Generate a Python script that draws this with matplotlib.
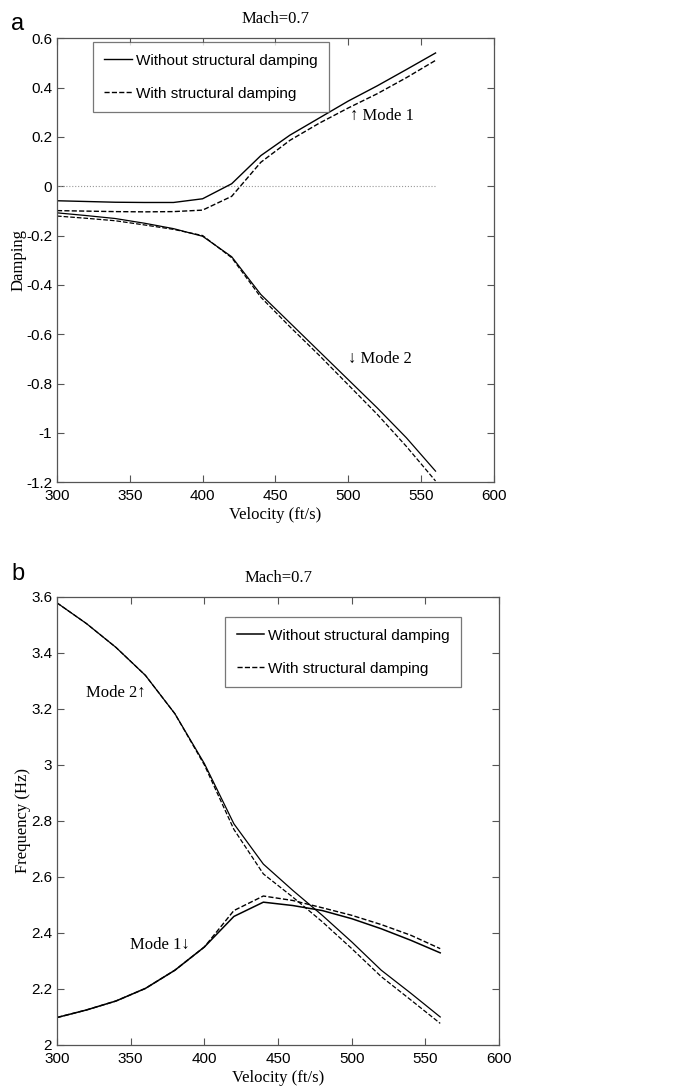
import matplotlib
matplotlib.use("Agg")
from matplotlib import pyplot as plt
import numpy as np

velocity = [300, 320, 340, 360, 380, 400, 420, 440, 460, 480, 500, 520, 540, 560]

# damping, panel a
damp_m1 = [-0.059, -0.062, -0.065, -0.066, -0.066, -0.051, 0.010, 0.124, 0.207, 0.276, 0.345, 0.407, 0.473, 0.540]
damp_m1_sd = [-0.099, -0.101, -0.103, -0.104, -0.103, -0.097, -0.041, 0.097, 0.186, 0.255, 0.317, 0.375, 0.440, 0.510]
damp_m2 = [-0.108, -0.119, -0.131, -0.150, -0.172, -0.203, -0.286, -0.439, -0.554, -0.669, -0.784, -0.899, -1.020, -1.155]
damp_m2_sd = [-0.121, -0.130, -0.140, -0.157, -0.175, -0.200, -0.290, -0.450, -0.570, -0.685, -0.805, -0.925, -1.055, -1.195]

# frequency, panel b
freq_m1 = [2.098, 2.125, 2.157, 2.202, 2.267, 2.350, 2.459, 2.510, 2.498, 2.480, 2.451, 2.415, 2.374, 2.329]
freq_m1_sd = [2.098, 2.125, 2.157, 2.202, 2.267, 2.350, 2.480, 2.532, 2.516, 2.490, 2.463, 2.430, 2.392, 2.344]
freq_m2 = [3.579, 3.505, 3.420, 3.320, 3.183, 3.005, 2.790, 2.646, 2.552, 2.463, 2.368, 2.267, 2.185, 2.100]
freq_m2_sd = [3.579, 3.505, 3.420, 3.320, 3.183, 3.000, 2.770, 2.611, 2.528, 2.440, 2.344, 2.244, 2.161, 2.077]

legend_labels = ['Without structural damping', 'With structural damping']

serif = ['Liberation Serif', 'DejaVu Serif']
sans = 'Liberation Sans'
frame_col = '#555555'
serif_size = 12


def style_axes(ax):
    ax.tick_params(direction='in', top=True, right=True, length=5, width=0.8,
                   colors=frame_col, labelcolor='black', labelsize=11)
    ax.tick_params(axis='x', pad=5)
    for lbl in ax.get_xticklabels() + ax.get_yticklabels():
        lbl.set_family(sans)
    for sp in ax.spines.values():
        sp.set_color(frame_col)
        sp.set_linewidth(0.9)
    ax.set_xlim(300, 600)
    ax.set_xticks(np.arange(300, 601, 50))


def add_legend(ax, handles, loc, anchor):
    leg = ax.legend(handles, legend_labels, loc=loc, bbox_to_anchor=anchor,
                    prop={'family': sans, 'size': 11},
                    fancybox=False, edgecolor=frame_col, handlelength=1.8, handletextpad=0.25,
                    borderpad=0.75, labelspacing=1.25, borderaxespad=0.0)
    leg.get_frame().set_linewidth(0.9)
    return leg


fig = plt.figure(figsize=(6.73, 10.91), dpi=100)

# ---- a: damping
ax1 = fig.add_axes([0.0847, 0.558, 0.649, 0.407])
ax1.plot(velocity, np.zeros(len(velocity)), ':', color='#999999', lw=0.8)
l1, = ax1.plot(velocity, damp_m1, '-', color='black', lw=1.0)
l2, = ax1.plot(velocity, damp_m1_sd, '--', color='black', lw=1.0)
ax1.plot(velocity, damp_m2, '-', color='black', lw=0.9)
ax1.plot(velocity, damp_m2_sd, '--', color='black', lw=0.9)
ax1.set_ylim(-1.2, 0.6)
ax1.set_yticks(np.arange(-1.2, 0.61, 0.2))
ax1.set_yticklabels(['-1.2', '-1', '-0.8', '-0.6', '-0.4', '-0.2', '0', '0.2', '0.4', '0.6'])
style_axes(ax1)
ax1.set_title('Mach=0.7', family=serif, fontsize=serif_size, pad=11)
ax1.set_xlabel('Velocity (ft/s)', family=serif, fontsize=serif_size, labelpad=3)
ax1.set_ylabel('Damping', family=serif, fontsize=serif_size, labelpad=0)
ax1.text(501, 0.284, '\u2191 Mode 1', family=serif, fontsize=serif_size, va='center')
ax1.text(500, -0.70, '\u2193 Mode 2', family=serif, fontsize=serif_size, va='center')
add_legend(ax1, [l1, l2], 'upper left', (0.082, 0.991))
fig.text(0.017, 0.978, 'a', family=sans, fontsize=17, va='center')

# ---- b: frequency
ax2 = fig.add_axes([0.0847, 0.0422, 0.657, 0.4106])
l3, = ax2.plot(velocity, freq_m1, '-', color='black', lw=1.1)
l4, = ax2.plot(velocity, freq_m1_sd, '--', color='black', lw=1.0)
ax2.plot(velocity, freq_m2, '-', color='black', lw=0.9)
ax2.plot(velocity, freq_m2_sd, '--', color='black', lw=0.9)
ax2.set_ylim(2.0, 3.6)
ax2.set_yticks(np.arange(2.0, 3.61, 0.2))
ax2.set_yticklabels(['2', '2.2', '2.4', '2.6', '2.8', '3', '3.2', '3.4', '3.6'])
style_axes(ax2)
ax2.set_title('Mach=0.7', family=serif, fontsize=serif_size, pad=11)
ax2.set_xlabel('Velocity (ft/s)', family=serif, fontsize=serif_size, labelpad=3)
ax2.set_ylabel('Frequency (Hz)', family=serif, fontsize=serif_size, labelpad=0)
ax2.text(319.5, 3.257, 'Mode 2\u2191', family=serif, fontsize=serif_size, va='center')
ax2.text(349.5, 2.357, 'Mode 1\u2193', family=serif, fontsize=serif_size, va='center')
add_legend(ax2, [l3, l4], 'upper right', (0.914, 0.955))
fig.text(0.017, 0.474, 'b', family=sans, fontsize=17, va='center')

fig.savefig('out.png', dpi=100)
